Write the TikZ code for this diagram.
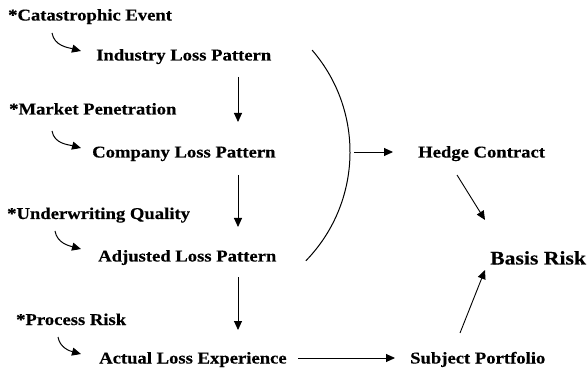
\documentclass[tikz,border=0pt]{standalone}
\usepackage{fontspec}
\setmainfont{Liberation Serif}[FakeStretch=1.13,BoldFeatures={FakeBold=0.35}]
\usetikzlibrary{arrows.meta}
\begin{document}
\begin{tikzpicture}[x=1pt,y=1pt,
  lbl/.style={inner sep=0pt,anchor=base west,font=\fontsize{16.5}{18}\selectfont\bfseries},
  big/.style={inner sep=0pt,anchor=base west,font=\fontsize{19.2}{21}\selectfont\bfseries},
  arr/.style={line width=0.9pt,-{Triangle[length=9pt,width=8pt]}},
  hook/.style={line width=1pt,-{Triangle[length=9pt,width=8pt]}}]
\useasboundingbox (0,0) rectangle (588,372);
% labels
\node[lbl] (cat) at (8,351.5) {*Catastrophic Event};
\node[lbl] (ind) at (96,311.5) {Industry Loss Pattern};
\node[lbl] (mkt) at (9,257.5) {*Market Penetration};
\node[lbl] (com) at (92,214.5) {Company Loss Pattern};
\node[lbl] (und) at (7,153) {*Underwriting Quality};
\node[lbl] (adj) at (98,110.5) {Adjusted Loss Pattern};
\node[lbl] (pro) at (16,47) {*Process Risk};
\node[lbl] (act) at (99,8.5) {Actual Loss Experience};
\node[lbl] (hed) at (418,214.5) {Hedge Contract};
\node[big] (bas) at (490,107.5) {Basis Risk};
\node[lbl] (sub) at (410,8.5) {Subject Portfolio};
% connector end points
\coordinate (h1s) at (52,339);  \coordinate (h1e) at (81,321);
\coordinate (h2s) at (52,241);  \coordinate (h2e) at (81,224);
\coordinate (h3s) at (55,141);  \coordinate (h3e) at (81,123);
\coordinate (h4s) at (58,35);   \coordinate (h4e) at (81,18);
\coordinate (d1s) at (238,295); \coordinate (d1e) at (238,250);
\coordinate (d2s) at (238,197); \coordinate (d2e) at (238,145);
\coordinate (d3s) at (238,95);  \coordinate (d3e) at (238,42);
\coordinate (arcTop) at (312.1,321.9);
\coordinate (arcMid) at (354,220);
\coordinate (hedIn) at (393,220);
\coordinate (hbS) at (457,197); \coordinate (hbE) at (485,152);
\coordinate (sbS) at (460,39);  \coordinate (sbE) at (485,102);
\coordinate (asS) at (298,14);  \coordinate (asE) at (395,14);
% hooks
\draw[hook] (h1s) to[out=-80,in=165] (h1e);
\draw[hook] (h2s) to[out=-80,in=165] (h2e);
\draw[hook] (h3s) to[out=-80,in=165] (h3e);
\draw[hook] (h4s) to[out=-80,in=165] (h4e);
% vertical arrows
\draw[arr] (d1s) -- (d1e);
\draw[arr] (d2s) -- (d2e);
\draw[arr] (d3s) -- (d3e);
% big arc
\draw[line width=1pt] (arcTop) arc[start angle=40.8,end angle=-44.2,radius=156pt];
\draw[arr] (arcMid) -- (hedIn);
\draw[arr] (hbS) -- (hbE);
\draw[arr] (sbS) -- (sbE);
\draw[arr] (asS) -- (asE);
\end{tikzpicture}
\end{document}
